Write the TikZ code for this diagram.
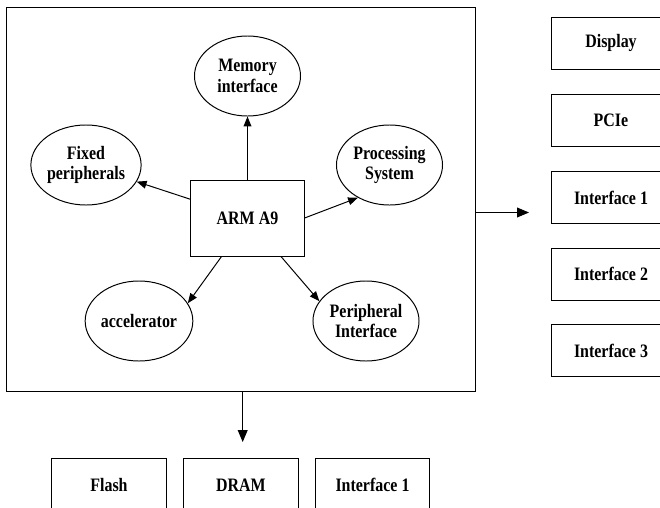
\documentclass[tikz,border=0pt]{standalone}
\usepackage{fontspec}
\setmainfont{Liberation Serif}[FakeStretch=0.84]
\usetikzlibrary{arrows.meta, positioning, shapes.geometric}

\begin{document}
\begin{tikzpicture}[
  x=0.025cm, y=-0.025cm,
  blk/.style={draw, line width=0.7pt, minimum width=#1, minimum height=1.3cm,
              inner sep=0pt, align=center, font=\fontsize{13.5}{14.5}\selectfont\bfseries},
  unit/.style={draw, ellipse, line width=0.7pt, minimum width=2.65cm, minimum height=2cm,
               inner sep=0pt, align=center, font=\fontsize{13.5}{14.5}\selectfont\bfseries},
  arr/.style={-{Triangle[length=7pt,width=5.5pt]}, line width=0.7pt},
  bigarr/.style={-{Triangle[length=8.5pt,width=7pt]}, line width=0.7pt}
]
\useasboundingbox (0,0) rectangle (660,508);
\clip (0,0) rectangle (660,508);

% SoC outline and processor
\node[draw, line width=0.7pt, minimum width=11.7cm, minimum height=9.59cm] (soc) at (241,199.75) {};
\node[blk=2.83cm, minimum height=1.9cm] (arm) at (247.5,218) {ARM A9};

\node[unit] (mem)  at (247.5,76) {Memory\\interface};
\node[unit] (fix)  at (86,165)   {Fixed\\peripherals};
\node[unit] (proc) at (389.5,165) {Processing\\System};
\node[unit] (acc)  at (139,321)  {accelerator};
\node[unit] (peri) at (366,321)  {Peripheral\\Interface};

\draw[arr] (arm) -- (mem);
\draw[arr] (arm) -- (fix);
\draw[arr] (arm.east) -- (proc.226);
\draw[arr] (arm.236) -- (acc.20);
\draw[arr] (arm.311) -- (peri.157);

% external interfaces
\node[blk=2.95cm] (disp) at (611,43)    {Display};
\node[blk=2.95cm] (pcie) at (611,120)   {PCIe};
\node[blk=2.95cm] (ifa)  at (611,197.5) {Interface 1};
\node[blk=2.95cm] (ifb)  at (611,274)   {Interface 2};
\node[blk=2.95cm] (ifc)  at (611,350.5) {Interface 3};

\node[blk=2.85cm, minimum height=1.35cm] (flash) at (109,485)   {Flash};
\node[blk=2.85cm, minimum height=1.35cm] (dram)  at (241,485)   {DRAM};
\node[blk=2.83cm, minimum height=1.35cm] (ifd)   at (372.5,485) {Interface 1};

\coordinate (rt) at (529,212.5);
\coordinate (dn) at (242.7,442);
\draw[bigarr] (soc.east |- rt) -- (rt);
\draw[bigarr] (soc.south -| dn) -- (dn);
\end{tikzpicture}
\end{document}
